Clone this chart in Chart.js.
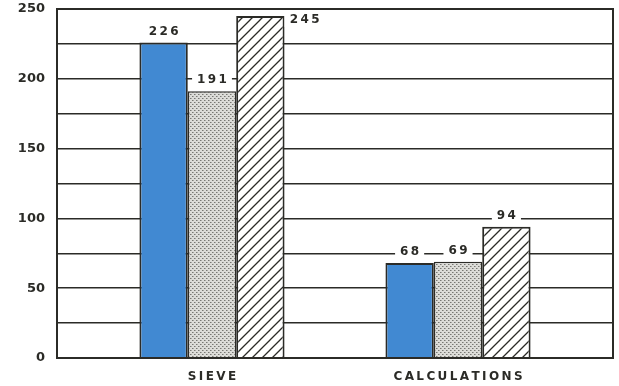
<!DOCTYPE html>
<html>
<head>
<meta charset="utf-8">
<script src="https://cdn.jsdelivr.net/npm/chart.js@4"></script>
<style>
  html, body { margin: 0; padding: 0; background: #fff; }
  #wrap { width: 619px; height: 386px; }
</style>
</head>
<body>
<div id="wrap"><canvas id="myChart" width="619" height="386"></canvas></div>
<script>
// data
var categories = ['SIEVE', 'CALCULATIONS'];
var blueValues = [226, 68];
var dottedValues = [191, 69];
var hatchedValues = [245, 94];
var yTicks = [0, 50, 100, 150, 200, 250];

var ink = '#2b2b27';
var thin = String.fromCharCode(8201);

function dotPattern() {
    var c = document.createElement('canvas');
    c.width = 4; c.height = 4;
    var g = c.getContext('2d');
    g.fillStyle = '#dcdcd8';
    g.fillRect(0, 0, 4, 4);
    g.fillStyle = '#777773';
    g.fillRect(0, 0, 1, 1);
    g.fillRect(2, 2, 1, 1);
    g.fillStyle = '#a8a8a3';
    g.fillRect(1, 0, 1, 1);
    g.fillRect(3, 2, 1, 1);
    return g.createPattern(c, 'repeat');
}

function hatchPattern() {
    var s = 10;
    var c = document.createElement('canvas');
    c.width = s; c.height = s;
    var g = c.getContext('2d');
    g.fillStyle = '#ffffff';
    g.fillRect(0, 0, s, s);
    g.strokeStyle = ink;
    g.lineWidth = 1.3;
    g.beginPath();
    g.moveTo(-1, s + 1); g.lineTo(s + 1, -1);
    g.moveTo(-1, 1); g.lineTo(1, -1);
    g.moveTo(s - 1, s + 1); g.lineTo(s + 1, s - 1);
    g.stroke();
    return g.createPattern(c, 'repeat');
}

// categories sit at x = 0 and 1 on a linear axis so the groups land where the original has them
function toPoints(vals) {
    return vals.map(function (v, i) { return { x: i, y: v }; });
}

// value labels with a white box behind them, like the original
var valueLabels = {
    id: 'valueLabels',
    afterDatasetsDraw: function (chart) {
        var ctx = chart.ctx;
        ctx.save();
        ctx.font = 'bold 12px "DejaVu Sans"';
        ctx.textBaseline = 'middle';
        ctx.textAlign = 'center';
        chart.data.datasets.forEach(function (ds, di) {
            chart.getDatasetMeta(di).data.forEach(function (bar, i) {
                var txt = String(ds.data[i].y).split('').join(thin);
                var x = bar.x, y = bar.y - 11;
                if (di === 2 && i === 0) { x = bar.x + bar.width / 2 + 20; y = bar.y + 4; }
                var w = ctx.measureText(txt).width + 10;
                ctx.fillStyle = '#fff';
                ctx.fillRect(x - w / 2, y - 7, w, 14);
                ctx.fillStyle = ink;
                ctx.fillText(txt, x, y);
            });
        });
        ctx.restore();
    }
};

var frame = {
    id: 'frame',
    afterDatasetsDraw: function (chart) {
        var a = chart.chartArea, ctx = chart.ctx;
        ctx.save();
        ctx.strokeStyle = ink;
        ctx.lineWidth = 2;
        ctx.strokeRect(a.left, a.top, a.right - a.left, a.bottom - a.top);
        ctx.restore();
    }
};

var ctx = document.getElementById('myChart');
var myChart = new Chart(ctx, {
    type: 'bar',
    data: {
        datasets: [{
            data: toPoints(blueValues),
            backgroundColor: '#4189d2',
            borderColor: ink,
            borderWidth: 2
        }, {
            data: toPoints(dottedValues),
            backgroundColor: dotPattern(),
            borderColor: ink,
            borderWidth: 1.5
        }, {
            data: toPoints(hatchedValues),
            backgroundColor: hatchPattern(),
            borderColor: ink,
            borderWidth: 2
        }]
    },
    options: {
        responsive: false,
        animation: false,
        layout: { padding: { top: 9, right: 6, left: 0, bottom: 0 } },
        datasets: { bar: { categoryPercentage: 0.59, barPercentage: 1, grouped: true } },
        plugins: { legend: { display: false }, tooltip: { enabled: false } },
        scales: {
            x: {
                type: 'linear',
                min: -0.63,
                max: 1.63,
                offset: false,
                grid: { display: false },
                border: { display: false },
                afterBuildTicks: function (s) { s.ticks = categories.map(function (c, i) { return { value: i }; }); },
                afterFit: function (s) { s.height = 28; },
                ticks: {
                    color: ink,
                    font: { family: 'DejaVu Sans', size: 12, weight: 'bold' },
                    padding: 4,
                    maxRotation: 0,
                    autoSkip: false,
                    callback: function (v) { return categories[v].split('').join(thin); }
                }
            },
            y: {
                min: 0,
                max: 250,
                grid: { color: ink, lineWidth: 1.5, drawTicks: false },
                border: { display: false },
                afterFit: function (s) { s.width = 57; s.paddingTop = 0; s.paddingBottom = 0; },
                ticks: {
                    stepSize: 25,
                    color: ink,
                    padding: 12,
                    font: { family: 'DejaVu Sans', size: 13, weight: 'bold' },
                    callback: function (v) { return yTicks.indexOf(v) >= 0 ? v : ''; }
                }
            }
        }
    },
    plugins: [valueLabels, frame]
});
</script>
</body>
</html>
